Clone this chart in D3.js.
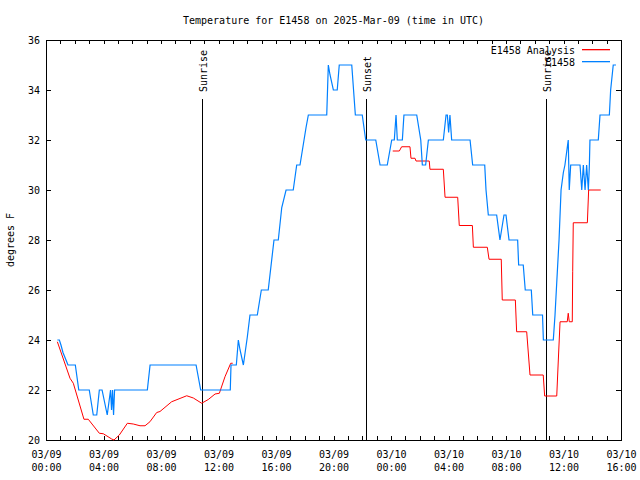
<!DOCTYPE html>
<html>
<head>
<meta charset="utf-8">
<script src="https://cdn.jsdelivr.net/npm/d3@7"></script>
<style>
  html, body { margin: 0; padding: 0; background: #fff; }
  svg { display: block; }
  text { font-family: "DejaVu Sans Mono", monospace; font-size: 10px; fill: #000; }
</style>
</head>
<body>
<svg id="chart" width="640" height="480"></svg>
<script>
// ---- data (hours since 2025-03-09 00:00 UTC) ----
const titleText = "Temperature for E1458 on 2025-Mar-09 (time in UTC)";
const yLabel = "degrees F";
const seriesNames = ["E1458 Analysis", "E1458"];

const obsHours = [0.79,0.93,1.04,1.18,1.32,1.53,2.04,2.28,3.01,3.29,3.53,3.71,3.90,4.26,4.49,4.56,4.63,4.70,4.77,7.05,7.24,10.44,10.76,12.82,12.87,13.24,13.38,13.50,13.73,14.00,14.19,14.70,14.98,15.46,15.86,16.16,16.40,16.70,17.20,17.44,17.67,18.09,18.25,19.53,19.64,19.76,19.99,20.26,20.40,21.27,21.52,22.00,22.24,22.94,23.24,23.74,24.05,24.23,24.35,24.44,24.79,24.90,25.79,26.07,26.18,26.41,26.60,27.64,27.83,27.92,28.01,28.10,28.22,29.50,29.68,30.52,30.61,30.77,31.35,31.58,31.86,32.00,32.21,32.81,32.88,33.20,33.34,33.76,33.86,34.54,34.60,35.29,35.41,35.53,35.69,35.83,35.99,36.10,36.33,36.40,36.50,37.15,37.27,37.38,37.50,37.61,37.73,37.80,37.84,38.42,38.54,39.19,39.28,39.46,39.65];
const obsTemps = [24,24,23.8,23.5,23.3,23,23,22,22,21,21,22,22,21,22,21.2,22,21,22,22,23,23,22,22,23,23,24,23.6,23,24.1,25,25,26,26,28,28,29.3,30,30,31,31,32.5,33,33,35,34.6,34,34,35,35,33,33,32,32,31,31,32,32,33,32,32,33,33,32,31,31,32,32,33,33,32.3,33,32,32,31,31,30,29,29,28,29,29,28,28,27,27,26,26,25,25,24,24,25,26.3,28,30,30.7,31,32,30,31,31,30,31,30,31,30,31,32,32,33,33,34,35,35];

const anaHours = [0.79,1.67,1.90,2.64,2.94,3.71,3.99,4.57,4.73,5.10,5.66,6.07,6.54,6.89,7.23,7.70,7.93,8.74,9.79,10.25,10.83,11.29,11.76,12.06,12.45,12.85,12.99,18.0,24.12,24.58,24.74,25.32,25.39,25.67,25.74,26.66,26.71,27.64,27.76,28.64,28.75,29.66,29.73,30.70,30.82,31.67,31.74,32.65,32.74,33.44,33.67,34.59,34.69,35.53,35.64,35.76,36.26,36.33,36.40,36.61,36.64,36.68,37.66,37.75,38.59];
const anaTemps = [23.93,22.47,22.27,20.83,20.83,20.27,20.25,20.04,20.0,20.2,20.67,20.64,20.57,20.57,20.73,21.1,21.14,21.53,21.77,21.68,21.47,21.62,21.84,21.87,22.53,23.07,23.07,null,31.56,31.56,31.73,31.73,31.27,31.27,31.16,31.16,30.83,30.83,29.71,29.71,28.58,28.58,27.71,27.71,27.23,27.23,25.6,25.6,24.33,24.33,22.6,22.6,21.76,21.76,23.2,24.73,24.73,25.07,24.73,24.73,26.73,28.69,28.69,30.0,30.0];

const eventNames = ["Sunrise", "Sunset", "Sunrise"];
const eventHours = [10.83, 22.26, 34.78];

const yTicks = [20,22,24,26,28,30,32,34,36];
const xLabelHours = [0,4,8,12,16,20,24,28,32,36,40];

// ---- layout ----
const W = 640, H = 480;
const m = {left: 46, right: 19, top: 40, bottom: 40};
const t0 = Date.UTC(2025, 2, 9, 0, 0);
const toDate = h => new Date(t0 + h * 3600e3);

const svg = d3.select("#chart");
const x = d3.scaleUtc().domain([toDate(0), toDate(40)]).range([m.left, W - m.right]);
const y = d3.scaleLinear().domain([20, 36]).range([H - m.bottom, m.top]);

const colRed = "#ff0000", colBlue = "#0080ff";

// ticks (inward)
const hourTicks = d3.range(0, 41).map(toDate);
function styleAxis(g) {
  g.select(".domain").remove();
  g.selectAll(".tick line").attr("stroke", "#000").attr("shape-rendering", "crispEdges");
}
svg.append("g").attr("transform", `translate(0,${y(20)})`)
  .call(d3.axisBottom(x).tickValues(hourTicks).tickSize(-4).tickFormat(""))
  .call(styleAxis);
svg.append("g").attr("transform", `translate(0,${y(36)})`)
  .call(d3.axisTop(x).tickValues(hourTicks).tickSize(-4).tickFormat(""))
  .call(styleAxis);
svg.append("g").attr("transform", `translate(${x.range()[0]},0)`)
  .call(d3.axisLeft(y).tickValues(yTicks).tickSize(-5).tickPadding(8).tickFormat(d3.format("d")))
  .call(styleAxis)
  .call(g => g.selectAll("text").attr("font-family", "DejaVu Sans Mono").attr("font-size", 10).attr("dy", "0.35em").attr("x", -6));
svg.append("g").attr("transform", `translate(${x.range()[1]},0)`)
  .call(d3.axisRight(y).tickValues(yTicks).tickSize(-5).tickFormat(""))
  .call(styleAxis);

// x labels, two lines
const fmtD = d3.utcFormat("%m/%d"), fmtT = d3.utcFormat("%H:%M");
const xl = svg.append("g").attr("transform", `translate(0,${y(20)})`)
  .call(d3.axisBottom(x).tickValues(xLabelHours.map(toDate)).tickSize(0).tickFormat(""));
xl.select(".domain").remove();
xl.selectAll(".tick").each(function(d) {
  const t = d3.select(this).append("text").attr("text-anchor", "middle")
    .attr("font-family", "DejaVu Sans Mono").attr("font-size", 10).attr("fill", "#000");
  t.append("tspan").attr("x", 0).attr("y", 18).text(fmtD(d));
  t.append("tspan").attr("x", 0).attr("y", 31).text(fmtT(d));
});

// border
svg.append("rect").attr("x", x.range()[0] + 0.5).attr("y", y(36) + 0.5)
  .attr("width", x.range()[1] - x.range()[0]).attr("height", y(20) - y(36))
  .attr("fill", "none").attr("stroke", "#000").attr("shape-rendering", "crispEdges");

// event lines
eventHours.forEach((h, i) => {
  const xp = Math.round(x(toDate(h))) + 0.5;
  svg.append("line").attr("x1", xp).attr("x2", xp).attr("y1", 99).attr("y2", y(20))
    .attr("stroke", "#000").attr("shape-rendering", "crispEdges");
  svg.append("text").attr("transform", `translate(${xp + 4},92) rotate(-90)`)
    .attr("text-anchor", "start").text(eventNames[i]);
});

// lines
const line = d3.line().defined(d => d[1] != null).x(d => x(toDate(d[0]))).y(d => y(d[1]));
const obsData = obsHours.map((h, i) => [h, obsTemps[i]]);
const anaData = anaHours.map((h, i) => [h, anaTemps[i]]);
svg.append("path").datum(anaData).attr("d", line).attr("fill", "none")
  .attr("stroke", colRed).attr("stroke-width", 1);
svg.append("path").datum(obsData).attr("d", line).attr("fill", "none")
  .attr("stroke", colBlue).attr("stroke-width", 1.2);

// legend
const legCols = [colRed, colBlue];
const leg = svg.append("g").attr("class", "legend");
leg.selectAll("text.leg").data(seriesNames).join("text").attr("class", "leg")
  .attr("x", 575).attr("y", (d, i) => 54 + i * 12).attr("text-anchor", "end").text(d => d);
leg.selectAll("rect.sw").data(seriesNames).join("rect").attr("class", "sw")
  .attr("x", 582).attr("y", (d, i) => 49 + i * 12).attr("width", 28).attr("height", 1.3)
  .style("fill", (d, i) => legCols[i]);

// title & y label
svg.append("text").attr("x", (x.range()[0] + x.range()[1]) / 2).attr("y", 24)
  .attr("text-anchor", "middle").text(titleText);
svg.append("text").attr("transform", `translate(14,${(y(20) + y(36)) / 2}) rotate(-90)`)
  .attr("text-anchor", "middle").text(yLabel);
</script>
</body>
</html>
